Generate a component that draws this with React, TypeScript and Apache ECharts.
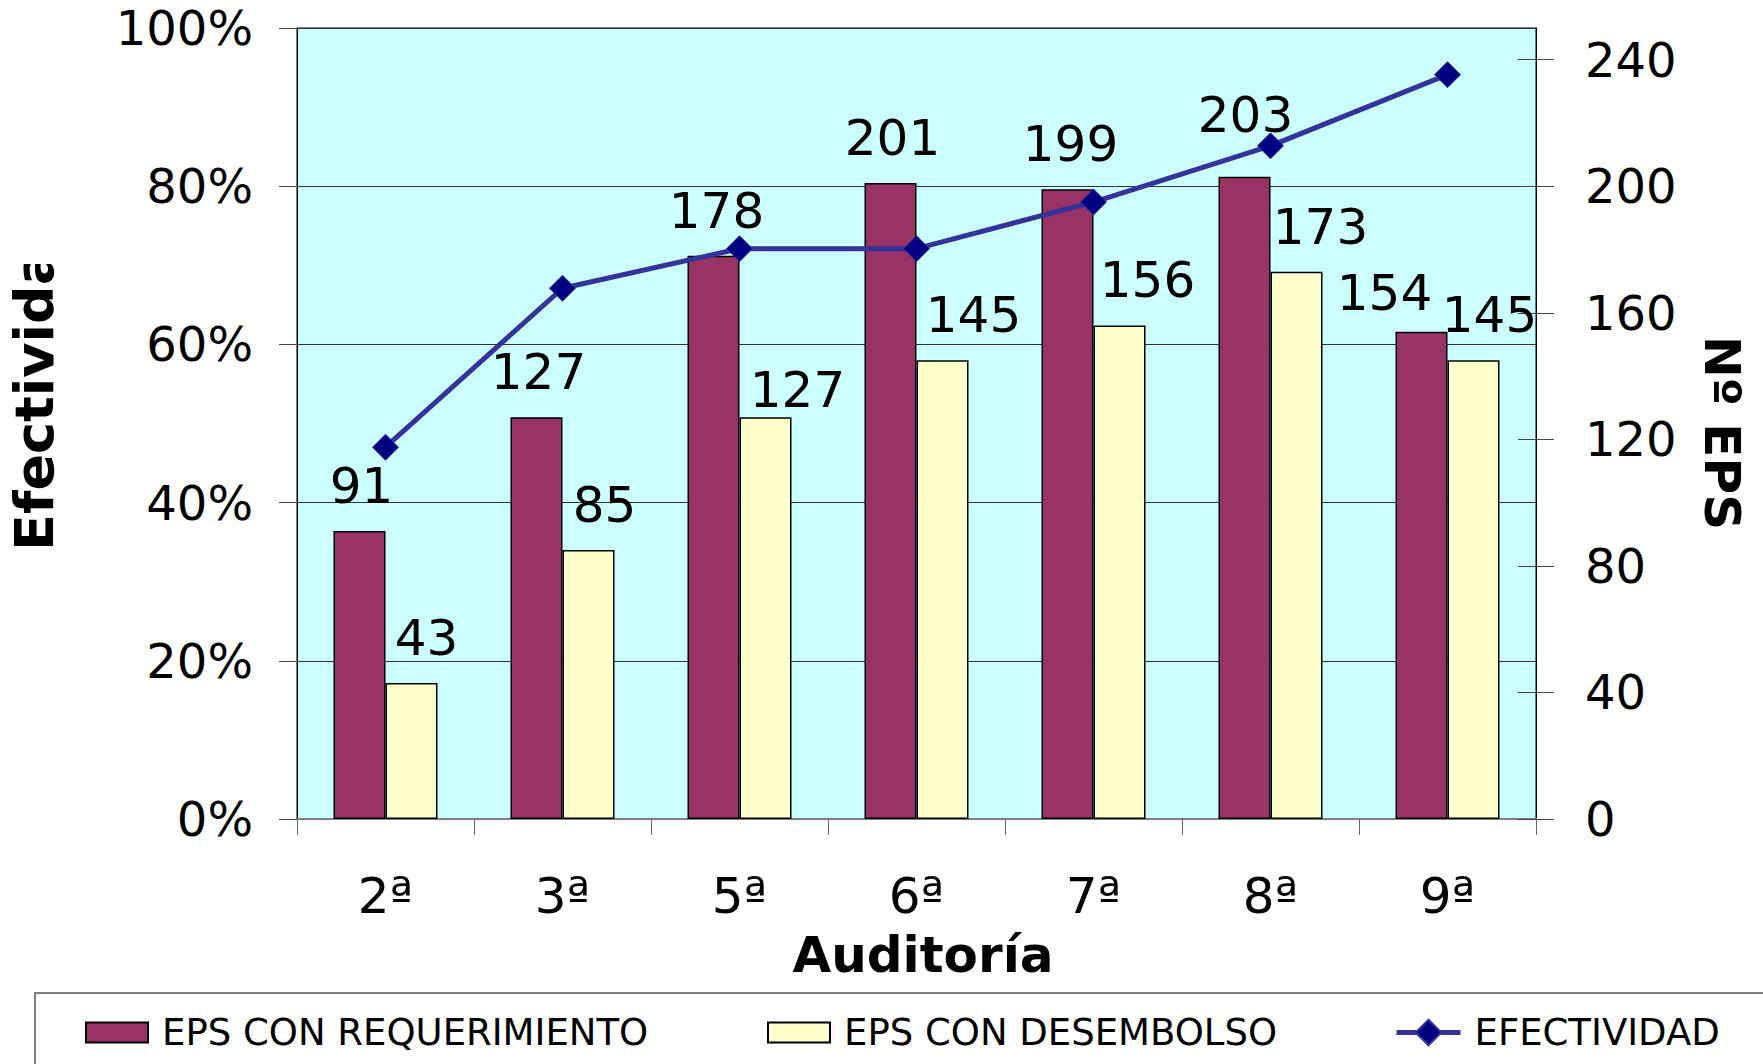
import React, { useEffect, useRef } from 'react';
import * as echarts from 'echarts';

const categories = ['2ª', '3ª', '5ª', '6ª', '7ª', '8ª', '9ª'];
const conRequerimiento = [91, 127, 178, 201, 199, 203, 154];
const conDesembolso = [43, 85, 127, 145, 156, 173, 145];
const efectividad = [47.0, 67.1, 72.1, 72.1, 78.0, 85.1, 94.1];
const rightTicks = [0, 40, 80, 120, 160, 200, 240];
const seriesNames = ['EPS CON REQUERIMIENTO', 'EPS CON DESEMBOLSO', 'EFECTIVIDAD'];
// label nudges (px) as placed in the reference
const reqLabelShift = [[2, 0], [2, 0], [3, 0], [2, 0], [3, 0], [1, -17], [-37, 6]];
const desLabelShift = [[15, 0], [16, 0], [32, 18], [31, 0], [28, 0], [24, 0], [16, 0]];

const FONT = '"DejaVu Sans", Verdana, sans-serif';

export default function App() {
  const ref = useRef<HTMLDivElement>(null);
  useEffect(() => {
    if (!ref.current) return;
    const chart = echarts.init(ref.current, undefined, { renderer: 'svg' });
    const labelBase = {
      show: true,
      position: 'top',
      distance: 20,
      fontSize: 50,
      fontFamily: FONT,
      color: '#000',
    };
    const legendBase = {
      top: 1014,
      padding: 0,
      itemWidth: 62,
      itemHeight: 20,
      selectedMode: false,
      textStyle: { fontSize: 37, fontFamily: FONT, color: '#000', padding: [0, 0, 0, 9] },
    };
    const option: any = {
      animation: false,
      textStyle: { fontFamily: FONT },
      grid: {
        left: 297,
        right: 227,
        top: 28,
        bottom: 245,
        show: true,
        backgroundColor: '#CCFFFF',
        borderColor: '#000',
        borderWidth: 1,
        containLabel: false,
      },
      legend: [
        { ...legendBase, left: 85, icon: 'rect', data: [seriesNames[0]] },
        { ...legendBase, left: 767, icon: 'rect', data: [seriesNames[1]] },
        {
          ...legendBase,
          left: 1394,
          itemWidth: 64,
          itemHeight: 32,
          lineStyle: { width: 5, color: '#333399' },
          data: [seriesNames[2]],
        },
      ],
      xAxis: {
        type: 'category',
        data: categories,
        boundaryGap: true,
        axisLine: { show: true, lineStyle: { color: '#808080', width: 2 } },
        axisTick: { show: true, length: 16, interval: 0, lineStyle: { color: '#666' } },
        axisLabel: { fontSize: 50, color: '#000', margin: 52, fontFamily: FONT, interval: 0 },
        splitLine: { show: false },
      },
      yAxis: [
        {
          type: 'value',
          min: 0,
          max: 100,
          interval: 20,
          position: 'left',
          axisLine: { show: true, lineStyle: { color: '#000', width: 1 } },
          axisTick: { show: true, length: 18, inside: false, lineStyle: { color: '#444' } },
          axisLabel: { formatter: '{value}%', fontSize: 48, color: '#000', margin: 44, fontFamily: FONT },
          splitLine: { show: true, lineStyle: { color: '#333', width: 1 } },
        },
        {
          type: 'value',
          min: 0,
          max: 250,
          interval: 40,
          position: 'right',
          axisLine: { show: true, lineStyle: { color: '#000', width: 1 } },
          axisTick: { show: true, length: 18, inside: false, customValues: rightTicks, lineStyle: { color: '#444' } },
          axisLabel: {
            fontSize: 48,
            color: '#000',
            margin: 49,
            fontFamily: FONT,
            customValues: rightTicks,
            formatter: (v: number) => (rightTicks.includes(v) ? String(v) : ''),
          },
          splitLine: { show: false },
        },
        {
          type: 'value',
          min: 0,
          max: 250,
          interval: 40,
          position: 'right',
          axisLine: { show: false },
          axisTick: { show: true, length: 18, inside: true, customValues: rightTicks, lineStyle: { color: '#444' } },
          axisLabel: { show: false },
          splitLine: { show: false },
        },
      ],
      series: [
        {
          name: seriesNames[0],
          type: 'bar',
          yAxisIndex: 1,
          barWidth: 52,
          barGap: '0%',
          itemStyle: { color: '#993366', borderColor: '#000', borderWidth: 1.5 },
          label: labelBase,
          data: conRequerimiento.map((v, i) => ({ value: v, label: { offset: reqLabelShift[i] } })),
          z: 2,
        },
        {
          name: seriesNames[1],
          type: 'bar',
          yAxisIndex: 1,
          barWidth: 52,
          barGap: '0%',
          itemStyle: { color: '#FFFFCC', borderColor: '#000', borderWidth: 1.5 },
          label: labelBase,
          data: conDesembolso.map((v, i) => ({ value: v, label: { offset: desLabelShift[i] } })),
          z: 2,
        },
        {
          name: seriesNames[2],
          type: 'line',
          yAxisIndex: 0,
          data: efectividad,
          symbol: 'diamond',
          symbolSize: 26,
          lineStyle: { color: '#333399', width: 5 },
          itemStyle: { color: '#000080', borderColor: '#333399', borderWidth: 1 },
          z: 3,
        },
      ],
      graphic: [
        {
          type: 'rect',
          shape: { x: 35, y: 993, width: 1800, height: 200 },
          style: { fill: 'none', stroke: '#808080', lineWidth: 2 },
          z: 1,
        },
        {
          type: 'text',
          x: 34,
          y: 551,
          rotation: Math.PI / 2,
          style: {
            text: 'Efectividad',
            fontSize: 54,
            fontWeight: 'bold',
            fontFamily: FONT,
            fill: '#000',
            align: 'left',
            verticalAlign: 'middle',
            textAlign: 'left',
            textVerticalAlign: 'middle',
          },
          z: 10,
        },
        {
          type: 'rect',
          shape: { x: 0, y: 0, width: 80, height: 264 },
          style: { fill: '#fff' },
          z: 20,
        },
        {
          type: 'text',
          x: 1722,
          y: 433,
          rotation: -Math.PI / 2,
          style: {
            text: 'Nº EPS',
            fontSize: 50,
            fontWeight: 'bold',
            fontFamily: FONT,
            fill: '#000',
            align: 'center',
            verticalAlign: 'middle',
            textAlign: 'center',
            textVerticalAlign: 'middle',
          },
          z: 10,
        },
        {
          type: 'text',
          x: 923,
          y: 955,
          style: {
            text: 'Auditoría',
            fontSize: 50,
            fontWeight: 'bold',
            fontFamily: FONT,
            fill: '#000',
            align: 'center',
            verticalAlign: 'middle',
            textAlign: 'center',
            textVerticalAlign: 'middle',
          },
          z: 10,
        },
      ],
    };
    chart.setOption(option);
    return () => chart.dispose();
  }, []);
  return (
    <div
      ref={ref}
      style={{ position: 'absolute', left: 0, top: 0, width: 1763, height: 1064, background: '#fff' }}
    />
  );
}
